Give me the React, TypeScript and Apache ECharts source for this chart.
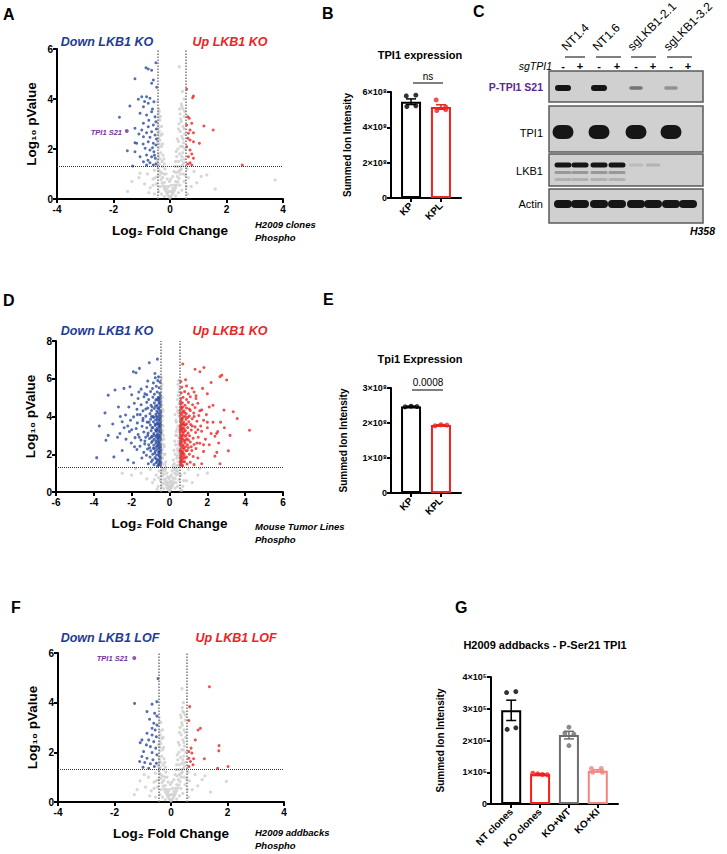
import React, { useEffect, useRef } from 'react';
import * as echarts from 'echarts';

const FF = '"Liberation Sans", Arial, Helvetica, "DejaVu Sans", sans-serif';

// ---------- DATA ----------
// thresholds
const fcLow = -0.45;
const fcHigh = 0.55;
const pCut = 1.3;

// Panel A (H2009 clones, phospho)
const aGray = [
  [0,0.04],[0.04,0.1],[-0.04,0.1],[0.08,0.18],[-0.08,0.16],[0.12,0.26],[-0.12,0.24],[0.16,0.35],[-0.16,0.33],[0.2,0.45],[-0.2,0.42],[0.24,0.56],[-0.24,0.52],[0.28,0.68],[-0.28,0.64],[0.06,0.3],[-0.06,0.28],[0.1,0.42],[-0.1,0.4],[0.15,0.55],[-0.15,0.5],[0.2,0.7],[-0.2,0.66],[0.32,0.82],[-0.32,0.78],[0.26,0.9],[-0.26,0.86],[0.36,1.0],[-0.36,0.95],[0.3,1.1],[-0.3,1.05],[0.4,1.2],[-0.4,1.15],[0.22,1.05],[-0.22,1.0],[0.44,1.35],[-0.43,1.3],
  [-0.44,1.55],[-0.36,1.6],[-0.28,1.5],[-0.42,1.8],[-0.33,1.85],[-0.4,2.05],[-0.3,2.1],[-0.44,2.3],[-0.36,2.35],[-0.42,2.6],[-0.32,2.55],[-0.4,2.85],[-0.44,3.05],[-0.36,3.15],[-0.42,3.4],[-0.4,3.6],[-0.44,3.9],
  [0.3,1.5],[0.4,1.55],[0.5,1.6],[0.34,1.8],[0.45,1.85],[0.52,2.0],[0.38,2.1],[0.48,2.25],[0.3,2.3],[0.42,2.5],[0.52,2.6],[0.36,2.7],[0.46,2.9],[0.4,3.1],[0.5,3.3],[0.36,3.4],[0.46,3.6],[0.4,3.8],[0.5,4.0],[0.44,4.3],[0.33,5.29],[0.28,2.0],[0.24,1.7],[-0.25,1.75],
  [-0.55,0.2],[-0.7,0.45],[-0.9,0.6],[-0.6,0.8],[-1.1,0.85],[-0.8,1.0],[-0.55,1.15],[-1.06,1.03],[-1.35,0.7],[-0.75,0.25],[0.62,0.2],[0.75,0.5],[0.95,0.65],[0.65,0.85],[1.1,0.9],[0.85,1.1],[1.3,0.96],[0.6,1.2],[3.72,0.76],[1.6,0.4],[-1.5,0.3],
  [-0.05,0.5],[0.05,0.55],[0,0.3],[-0.02,0.7],[0.03,0.8],[-0.1,0.8],[0.1,0.9],[-0.14,1.0],[0.14,1.1],[-0.18,1.2],[0.18,1.3],[-0.2,1.4],[0.2,1.5],[-0.22,1.6],[0.22,1.9],[-0.26,2.2],[0.26,2.4],[-0.28,2.6],[0.3,2.8],[-0.3,2.9],[0.32,3.0],[-0.34,3.3],[0.34,3.6],[-0.38,1.4],[0.38,1.3],[-0.4,1.7],[0.42,1.7],[-0.38,2.2],[0.44,2.1],[-0.4,2.45],[0.46,2.4],[-0.38,2.7],[0.5,2.8],[-0.42,2.95],[0.38,3.2],[-0.4,3.25],[0.52,3.5],[-0.38,3.5],[0.42,3.7],[-0.36,1.1],[0.36,1.15],[-0.44,0.9],[0.46,1.0],[-0.48,0.6],[0.5,0.7],[-0.35,0.5],[0.35,0.55],[-0.4,0.3],[0.42,0.35],[-0.3,0.2],[0.3,0.25],[-0.2,0.1],[0.2,0.12],[0.48,1.45],[-0.46,1.45],[0.27,1.3],[-0.27,1.3],[0.55,0.95],[-0.52,0.85],[0.58,0.5],[-0.6,0.55]
];
const aDown = [
  [-0.5,5.45],[-0.85,5.25],[-0.77,5.2],[-0.65,5.15],[-1.24,4.81],[-0.59,4.76],[-0.65,4.63],[-0.47,4.47],
  [-1.12,3.99],[-1.0,4.09],[-0.83,4.09],[-0.71,4.03],[-1.42,3.72],[-0.94,3.69],[-0.77,3.83],[-0.57,3.89],
  [-1.79,3.27],[-1.06,3.43],[-0.83,3.36],[-0.65,3.49],[-0.53,3.29],[-0.94,3.03],[-0.77,2.89],[-0.59,2.96],[-0.5,3.09],
  [-1.24,2.83],[-1.0,2.76],[-0.83,2.65],[-0.65,2.69],[-0.94,2.49],[-0.71,2.47],[-0.53,2.56],
  [-1.24,2.25],[-1.18,2.23],[-0.77,2.29],[-0.59,2.23],[-0.5,2.16],[-1.51,1.93],[-1.24,1.89],[-0.88,2.03],[-0.71,1.96],[-0.57,1.89],
  [-1.06,1.69],[-0.83,1.76],[-0.65,1.69],[-0.52,1.63],[-0.94,1.49],[-0.71,1.45],[-0.59,1.36],[-1.32,1.32],[-0.83,1.36],[-0.5,1.4],
  [-0.9,3.9],[-0.62,3.6],[-0.75,3.15],[-0.48,2.4],[-0.62,2.05],[-0.78,1.55],[-0.95,2.2],[-1.1,2.6],[-0.55,1.75],[-0.48,2.8]
];
const aUp = [
  [0.59,4.39],[0.8,4.05],[0.83,4.12],[0.63,3.29],[0.68,3.23],[0.59,2.96],[0.77,3.03],[1.2,2.92],[1.53,2.76],
  [0.71,2.76],[0.65,2.63],[0.83,2.65],[0.63,2.43],[0.71,2.36],[0.83,2.29],[1.04,2.23],[0.59,2.09],[0.71,1.96],
  [0.77,1.8],[0.65,1.69],[0.83,1.63],[0.71,1.45],[0.63,1.4],[0.77,1.36],[2.56,1.36]
];
const aHit = [[-1.53, 2.72]];

// Panel D (mouse tumor lines, phospho)
const dGray = [
  [0,0.05],[0.06,0.12],[-0.06,0.12],[0.12,0.25],[-0.12,0.22],[0.18,0.38],[-0.18,0.35],[0.24,0.5],[-0.24,0.48],[0.3,0.7],[-0.3,0.65],[0.1,0.45],[-0.1,0.4],[0.36,0.9],[-0.36,0.85],[0.2,0.75],[-0.2,0.7],[0.42,1.1],[-0.42,1.05],[0.28,1.0],[-0.28,0.95],[0.48,1.3],[-0.4,1.3],[0.34,1.25],[-0.34,1.2],[0.04,0.25],[-0.03,0.2],[0.15,0.6],[-0.15,0.55],[0.08,0.35],
  [0.45,1.6],[-0.42,1.6],[0.38,1.8],[-0.35,1.8],[0.5,2.0],[-0.4,2.05],[0.42,2.3],[-0.43,2.3],[0.32,2.5],[-0.3,2.5],[0.48,2.7],[-0.38,2.75],[0.4,3.0],[-0.44,3.0],[0.52,3.2],[-0.36,3.25],[0.45,3.5],[-0.42,3.5],[0.36,3.7],[-0.4,3.8],[0.5,4.0],[-0.44,4.1],[0.42,4.3],[-0.38,4.4],[0.5,4.7],[-0.42,4.8],[0.45,5.1],[-0.45,5.3],[0.52,5.5],[-0.4,5.7],[0.48,5.9],[-0.44,6.1],[0.25,1.5],[-0.25,1.45],[0.3,2.0],[-0.28,2.0],[0.35,3.2],[-0.32,3.0],[0.3,4.1],[-0.33,4.3],[0.22,1.2],[-0.22,1.15],
  [-0.6,0.3],[-0.9,0.5],[-1.2,0.7],[-0.7,0.9],[-1.5,1.0],[-0.55,1.1],[-1.0,1.2],[-2.0,0.9],[-2.5,1.0],[0.7,0.3],[0.9,0.6],[1.2,0.5],[0.8,1.0],[1.5,0.9],[1.0,1.2],[2.0,1.0],[1.6,1.25],[-1.8,1.25],[0.65,0.1],[-0.65,0.15],
  [-0.05,0.5],[0.05,0.55],[0,0.3],[-0.02,0.7],[0.03,0.8],[-0.1,0.8],[0.1,0.9],[-0.14,1.0],[0.14,1.1],[-0.18,1.3],[0.18,1.4],[-0.2,1.6],[0.2,1.7],[-0.24,2.0],[0.24,2.2],[-0.28,2.4],[0.28,2.7],[-0.3,2.8],[0.32,3.0],[-0.34,3.5],[0.34,3.8],[-0.36,4.0],[0.38,4.5],[-0.38,1.5],[0.38,1.4],[-0.4,1.85],[0.42,1.9],[-0.38,2.25],[0.44,2.15],[-0.4,2.55],[0.46,2.5],[-0.4,3.1],[0.5,2.9],[-0.42,3.3],[0.4,3.35],[-0.4,4.6],[0.46,4.2],[-0.38,5.0],[0.42,4.9],[-0.36,1.1],[0.36,1.1],[-0.44,0.85],[0.46,0.95],[-0.48,0.6],[0.5,0.65],[-0.35,0.45],[0.35,0.5],[-0.42,0.3],[0.42,0.3],[-0.3,0.18],[0.3,0.2],[0.52,1.45],[-0.46,1.45],[0.26,1.3],[-0.26,1.25],[0.6,0.9],[-0.58,0.75],[0.75,0.6],[-0.8,0.65],[0.44,5.7],[-0.42,5.5],[0.5,5.3],[-0.44,6.0]
];
const dDown = [
  [-0.48,1.42],[-0.55,1.5],[-0.63,1.38],[-0.71,1.55],[-0.82,1.45],[-0.96,1.6],[-1.12,1.5],
  [-0.47,1.78],[-0.53,1.9],[-0.6,1.72],[-0.68,1.95],[-0.77,1.82],[-0.89,2.0],[-1.03,1.85],[-1.22,1.95],[-1.46,1.8],
  [-0.46,2.2],[-0.52,2.3],[-0.58,2.12],[-0.66,2.25],[-0.75,2.15],[-0.86,2.32],[-0.99,2.18],[-1.16,2.28],[-1.36,2.1],[-1.72,2.25],
  [-0.49,2.5],[-0.56,2.6],[-0.63,2.45],[-0.72,2.58],[-0.83,2.48],[-0.95,2.62],[-1.1,2.5],[-1.31,2.55],[-1.56,2.42],[-2.02,2.6],
  [-0.47,2.82],[-0.54,2.9],[-0.61,2.78],[-0.7,2.92],[-0.81,2.8],[-0.93,2.95],[-1.06,2.83],[-1.26,2.9],[-1.51,2.75],[-1.82,2.88],[-2.3,2.8],
  [-0.46,3.12],[-0.53,3.2],[-0.62,3.08],[-0.71,3.22],[-0.83,3.1],[-0.97,3.25],[-1.13,3.12],[-1.36,3.18],[-1.66,3.05],[-2.12,3.2],[-2.62,3.1],
  [-0.48,3.4],[-0.56,3.5],[-0.65,3.38],[-0.75,3.52],[-0.88,3.42],[-1.01,3.55],[-1.2,3.4],[-1.45,3.48],[-1.76,3.36],[-2.21,3.5],
  [-0.47,3.7],[-0.55,3.8],[-0.63,3.68],[-0.73,3.82],[-0.85,3.72],[-1.0,3.85],[-1.18,3.7],[-1.41,3.78],[-1.7,3.66],[-2.06,3.8],[-2.5,3.72],
  [-0.46,4.02],[-0.54,4.1],[-0.62,3.98],[-0.72,4.12],[-0.86,4.0],[-1.03,4.15],[-1.25,4.02],[-1.55,4.1],[-1.9,3.98],[-2.32,4.08],
  [-0.48,4.3],[-0.57,4.4],[-0.67,4.28],[-0.8,4.42],[-0.95,4.32],[-1.15,4.45],[-1.4,4.3],[-1.72,4.38],
  [-0.47,4.62],[-0.56,4.7],[-0.66,4.58],[-0.8,4.72],[-0.98,4.6],[-1.2,4.75],[-1.5,4.62],[-1.86,4.7],
  [-0.5,4.92],[-0.6,5.0],[-0.72,4.88],[-0.88,5.02],[-1.1,4.9],[-1.35,5.05],[-1.66,4.95],
  [-0.52,5.22],[-0.65,5.3],[-0.8,5.18],[-1.0,5.32],[-1.3,5.2],[-1.62,5.3],[-2.0,5.15],
  [-0.55,5.52],[-0.7,5.6],[-0.9,5.48],[-1.2,5.58],[-1.5,5.45],[-0.5,5.82],[-0.62,5.9],[-0.85,5.78],[-1.15,5.88],[-0.58,6.1],[-0.75,6.05],
  [-0.64,7.04],[-1.07,6.85],[-1.59,6.55],[-1.91,6.37],[-1.77,6.32],[-0.77,6.28],[-2.41,5.49],[-3.24,5.13],[-2.88,5.4],[-2.09,5.58],[-3.41,4.19],[-3.71,3.5],[-3.85,1.82],[-2.94,1.86],[-3.24,3.0],[-3.36,2.74],[-2.7,4.5],[-2.5,2.2],[-3.0,3.6],[-2.2,1.7],[-2.75,2.9],[-1.9,1.55],
  [-0.5,1.6],[-0.58,2.0],[-0.51,2.7],[-0.59,3.3],[-0.5,3.6],[-0.6,4.2],[-0.52,4.5],[-0.64,1.62],[-0.69,2.4],[-0.57,3.0],[-0.66,3.6],[-0.52,1.65],[-0.49,2.05],[-0.55,2.35],[-0.61,2.65],[-0.68,3.0],[-0.74,3.3],[-0.78,2.05],[-0.9,2.7],[-0.92,3.4],[-0.95,4.0],[-0.5,3.95],[-0.58,4.85],[-0.7,4.0],
  [-0.47,1.55],[-0.5,1.85],[-0.53,2.15],[-0.47,2.4],[-0.5,2.95],[-0.47,3.25],[-0.53,3.45],[-0.46,3.55],[-0.49,3.85],[-0.46,4.2],[-0.5,4.75],[-0.47,5.1],[-0.55,5.0],[-0.57,1.45],[-0.6,2.5],[-0.62,2.85],[-0.6,3.6],[-0.64,3.85],[-0.62,4.45],[-0.66,4.9],[-0.7,1.75],[-0.72,2.7],[-0.68,3.25],[-0.76,3.6],[-0.74,4.55],[-0.8,2.3],[-0.82,3.0],[-0.84,3.95],[-0.9,1.7],[-0.95,2.9],[-0.92,4.5],[-1.05,2.35],[-1.08,3.7],[-1.15,3.0],[-1.25,4.4],[-1.3,2.7],[-1.4,3.9],[-1.6,2.9],[-1.7,4.1],[-2.0,3.3],[-1.85,2.4],[-2.4,3.4],[-2.6,4.0],[-2.15,4.5],[-1.2,5.15]
];
const dUp = [
  [0.57,1.45],[0.63,1.55],[0.7,1.4],[0.8,1.6],[0.93,1.48],[1.1,1.58],[1.3,1.45],
  [0.56,1.8],[0.62,1.92],[0.69,1.75],[0.78,1.98],[0.9,1.85],[1.05,2.0],[1.25,1.88],[1.5,1.8],
  [0.56,2.2],[0.61,2.32],[0.68,2.15],[0.76,2.28],[0.87,2.18],[1.0,2.35],[1.18,2.2],[1.4,2.3],[1.8,2.15],
  [0.57,2.52],[0.64,2.62],[0.72,2.48],[0.82,2.6],[0.95,2.5],[1.1,2.65],[1.3,2.52],[1.6,2.58],[2.1,2.5],
  [0.56,2.85],[0.63,2.92],[0.7,2.8],[0.8,2.95],[0.92,2.82],[1.06,2.98],[1.25,2.85],[1.52,2.9],[1.9,2.8],[2.4,2.95],
  [0.57,3.15],[0.65,3.22],[0.73,3.1],[0.84,3.25],[0.98,3.12],[1.15,3.28],[1.38,3.15],[1.7,3.22],[2.2,3.1],[2.55,3.2],
  [0.56,3.45],[0.63,3.52],[0.71,3.4],[0.82,3.55],[0.96,3.42],[1.12,3.58],[1.35,3.45],[1.65,3.5],[2.0,3.4],
  [0.58,3.75],[0.66,3.82],[0.75,3.7],[0.87,3.85],[1.02,3.72],[1.2,3.88],[1.45,3.75],[1.8,3.8],[2.3,3.7],
  [0.57,4.05],[0.65,4.12],[0.74,4.0],[0.88,4.15],[1.05,4.02],[1.28,4.18],[1.55,4.05],[1.95,4.1],
  [0.56,4.35],[0.64,4.42],[0.76,4.3],[0.9,4.45],[1.1,4.32],[1.35,4.48],[1.7,4.35],
  [0.58,4.65],[0.68,4.72],[0.82,4.6],[1.0,4.75],[1.22,4.62],[1.5,4.7],
  [0.6,4.95],[0.72,5.02],[0.9,4.9],[1.1,5.05],[1.4,4.95],[0.62,5.25],[0.8,5.32],[1.0,5.2],[1.3,5.3],[0.65,5.55],[0.9,5.62],[1.2,5.5],[0.6,5.85],[0.85,5.95],
  [0.7,6.78],[1.35,6.5],[1.82,6.6],[1.61,6.37],[2.67,6.11],[2.76,6.19],[3.02,5.93],[1.75,5.49],[2.88,4.34],[3.37,4.25],[3.58,3.89],[2.49,3.1],[3.11,2.18],[2.67,1.5],[1.7,1.5],[4.23,3.27],[2.6,2.6],[2.9,3.4],[2.3,4.6],[2.0,5.2],[2.4,1.9],[3.2,3.0],[2.2,5.8],
  [0.59,1.65],[0.6,2.05],[0.66,2.45],[0.59,2.7],[0.68,3.0],[0.6,3.35],[0.7,3.6],[0.6,3.9],[0.69,4.25],[0.62,1.68],[0.74,1.85],[0.72,2.08],[0.85,2.4],[0.77,2.7],[0.88,3.0],[0.78,3.35],[0.62,3.65],[0.84,4.0],
  [0.57,1.6],[0.6,1.85],[0.58,2.2],[0.56,2.6],[0.58,3.0],[0.56,3.3],[0.59,3.55],[0.57,4.2],[0.6,4.5],[0.58,4.8],[0.64,1.4],[0.66,2.0],[0.64,2.8],[0.66,3.35],[0.68,3.9],[0.7,4.5],[0.72,1.6],[0.74,2.35],[0.75,3.2],[0.78,3.55],[0.8,4.2],[0.82,1.8],[0.85,2.75],[0.9,3.6],[0.94,2.2],[0.96,3.95],[1.0,2.75],[1.05,4.4],[1.15,2.4],[1.2,3.5],[1.3,4.0],[1.45,2.6],[1.5,3.3],[1.6,4.3],[1.8,2.5],[2.0,3.7],[2.1,4.5],[2.5,2.1],[2.7,3.7],[1.4,5.1]
];

// Panel F (H2009 addbacks, phospho)
const fGray = [
  [0,0.04],[0.04,0.1],[-0.04,0.1],[0.08,0.18],[-0.08,0.16],[0.12,0.26],[-0.12,0.24],[0.16,0.35],[-0.16,0.33],[0.2,0.45],[-0.2,0.42],[0.24,0.56],[-0.24,0.52],[0.28,0.68],[-0.28,0.64],[0.06,0.3],[-0.06,0.28],[0.1,0.42],[-0.1,0.4],[0.15,0.55],[-0.15,0.5],[0.2,0.7],[-0.2,0.66],[0.32,0.82],[-0.32,0.78],[0.26,0.9],[-0.26,0.86],[0.36,1.0],[-0.36,0.95],[0.3,1.1],[-0.3,1.05],[0.4,1.2],[-0.4,1.15],[0.22,1.05],[-0.22,1.0],[0.44,1.35],[-0.43,1.3],
  [-0.44,1.55],[-0.36,1.6],[-0.28,1.5],[-0.42,1.8],[-0.33,1.85],[-0.4,2.05],[-0.3,2.1],[-0.44,2.3],[-0.36,2.35],[-0.42,2.6],[-0.32,2.55],[-0.4,2.85],[-0.44,3.05],[-0.36,3.2],[-0.42,3.4],
  [0.3,1.5],[0.4,1.55],[0.5,1.6],[0.34,1.8],[0.45,1.85],[0.52,2.0],[0.38,2.1],[0.48,2.25],[0.3,2.3],[0.42,2.5],[0.52,2.6],[0.36,2.7],[0.46,2.9],[0.4,3.1],[0.5,3.3],[0.36,3.4],[0.46,3.6],[0.4,3.8],[0.28,2.0],[0.24,1.7],[-0.25,1.75],[0.39,4.57],
  [-0.55,0.2],[-0.7,0.45],[-0.9,0.6],[-0.6,0.8],[-1.1,0.85],[-0.8,1.0],[-0.55,1.15],[-0.95,1.1],[-1.2,0.5],[-0.75,0.25],[0.62,0.2],[0.75,0.5],[0.95,0.65],[0.65,0.85],[1.1,0.9],[0.85,1.1],[1.2,1.05],[0.6,1.2],[1.96,0.83],[1.4,0.4],[-1.3,0.3],
  [-0.05,0.5],[0.05,0.55],[0,0.3],[-0.02,0.7],[0.03,0.8],[-0.1,0.8],[0.1,0.9],[-0.14,1.0],[0.14,1.1],[-0.18,1.2],[0.18,1.3],[-0.2,1.4],[0.2,1.5],[-0.22,1.6],[0.22,1.9],[-0.26,2.2],[0.26,2.4],[-0.28,2.6],[0.3,2.8],[-0.3,2.9],[0.32,3.0],[0.34,3.5],[-0.38,1.4],[0.38,1.3],[-0.4,1.7],[0.42,1.7],[-0.38,2.2],[0.44,2.1],[-0.4,2.45],[0.46,2.4],[-0.38,2.7],[0.5,2.8],[0.38,3.2],[-0.4,3.25],[0.5,3.5],[0.42,3.65],[0.44,4.0],[-0.36,1.1],[0.36,1.15],[-0.44,0.9],[0.46,1.0],[-0.48,0.6],[0.5,0.7],[-0.35,0.5],[0.35,0.55],[-0.4,0.3],[0.42,0.35],[-0.3,0.2],[0.3,0.25],[-0.2,0.1],[0.2,0.12],[0.48,1.45],[-0.46,1.45],[0.27,1.3],[-0.27,1.3],[0.55,0.95],[-0.52,0.85],[0.58,0.5],[-0.6,0.55]
];
const fDown = [
  [-0.46,4.97],[-1.29,3.97],[-0.67,3.94],[-0.5,4.04],[-0.85,3.64],[-0.58,3.57],[-0.5,3.46],[-0.76,3.33],[-0.61,3.17],[-0.5,3.1],
  [-0.67,2.97],[-0.56,2.9],[-0.85,2.77],[-0.67,2.7],[-0.52,2.63],[-1.03,2.5],[-0.79,2.5],[-0.61,2.43],[-1.09,2.39],[-0.87,2.3],[-0.73,2.23],[-0.54,2.17],
  [-0.97,2.03],[-0.67,1.99],[-0.5,1.9],[-1.03,1.83],[-0.85,1.76],[-0.64,1.7],[-1.11,1.63],[-0.93,1.59],[-0.73,1.54],[-0.52,1.56],[-0.99,1.4],[-0.79,1.36],[-0.59,1.43]
];
const fUp = [
  [1.36,4.64],[0.66,3.84],[0.63,3.28],[1.04,2.97],[0.96,2.9],[0.86,2.5],[1.7,2.27],[1.69,2.06],[0.71,2.17],[0.63,2.03],[0.74,1.97],
  [0.63,1.76],[0.8,1.74],[1.18,1.74],[0.69,1.63],[0.78,1.5],[0.63,1.43],[2.02,1.43],[1.65,1.36]
];
const fHit = [[-1.3, 5.8]];

// Panel B: TPI1 expression
const bCats = ['KP', 'KPL'];
const bMeans = [5.45e8, 5.15e8];
const bSem = [0.16e8, 0.13e8];
const bPoints = [[5.78e8, 5.82e8, 5.18e8, 5.22e8], [5.55e8, 5.0e8, 4.95e8, 5.15e8]];

// Panel E: Tpi1 expression
const eCats = ['KP', 'KPL'];
const eMeans = [2.47e8, 1.94e8];
const eSem = [0.012e8, 0.012e8];
const ePoints = [[2.46e8, 2.48e8, 2.47e8], [1.92e8, 1.95e8, 1.94e8]];

// Panel G: H2009 addbacks P-Ser21 TPI1
const gCats = ['NT clones', 'KO clones', 'KO+WT', 'KO+KI'];
const gMeans = [2.95e5, 0.94e5, 2.17e5, 1.05e5];
const gSem = [0.32e5, 0.01e5, 0.12e5, 0.03e5];
const gPoints = [[3.51e5, 3.54e5, 2.35e5, 2.4e5], [0.97e5, 0.95e5, 0.93e5, 0.92e5], [2.42e5, 2.23e5, 2.2e5, 1.84e5], [1.12e5, 1.12e5, 1.0e5, 1.0e5]];

// Panel C: western blot band intensities (lanes: -,+ per group)
const cGroups = ['NT1.4', 'NT1.6', 'sgLKB1-2.1', 'sgLKB1-3.2'];
const cLanes = ['-', '+', '-', '+', '-', '+', '-', '+'];
const cRows = ['P-TPI1 S21', 'TPI1', 'LKB1', 'Actin'];
const cBands = [
  [1, 0, 1, 0, 0.45, 0, 0.3, 0],
  [1, 0, 1, 0, 1, 0, 1, 0],
  [1, 1, 1, 1, 0.1, 0.14, 0, 0],
  [1, 1, 1, 1, 1, 1, 1, 1],
];

// ---------- LAYOUT / STYLE ----------
const BLUE = '#2a4b9f';
const RED = '#ec2424';
const GRAY = '#cdcdcd';
const PURPLE = '#76309a';
const AX = { color: '#000', width: 2 };
const sup: Record<number, string> = { 5: '⁵', 8: '⁸' };

const JIT4 = [-0.16, 0.16, -0.14, 0.16];
const JIT4b = [-0.25, -0.08, 0.08, 0.25];
const JIT3 = [-0.2, 0.0, 0.2];

function volcano(gi: number, grid: any, xr: [number, number], ymax: number, gray: number[][], down: number[][], up: number[][], hit?: number[][]) {
  const xAxis = {
    gridIndex: gi, type: 'value', min: xr[0], max: xr[1], interval: 2,
    axisLine: { show: true, onZero: false, lineStyle: AX },
    axisTick: { show: true, length: 4, lineStyle: AX },
    axisLabel: { color: '#000', fontSize: 10, fontWeight: 'bold', fontFamily: FF, margin: 5 },
    splitLine: { show: false },
    name: 'Log₂ Fold Change', nameLocation: 'middle', nameGap: 24, nameMoveOverlap: false,
    nameTextStyle: { color: '#000', fontSize: 13.5, fontWeight: 'bold', fontFamily: FF },
  };
  const yAxis = {
    gridIndex: gi, type: 'value', min: 0, max: ymax, interval: 2,
    axisLine: { show: true, onZero: false, lineStyle: AX },
    axisTick: { show: true, length: 4, lineStyle: AX },
    axisLabel: { color: '#000', fontSize: 10, fontWeight: 'bold', fontFamily: FF, margin: 4 },
    splitLine: { show: false },
    name: 'Log₁₀ pValue', nameLocation: 'middle', nameGap: 19, nameMoveOverlap: false,
    nameTextStyle: { color: '#000', fontSize: 13.5, fontWeight: 'bold', fontFamily: FF },
  };
  const series: any[] = [
    {
      type: 'scatter', xAxisIndex: gi, yAxisIndex: gi, data: gray, symbolSize: 3.2, silent: true, z: 1,
      itemStyle: { color: GRAY },
      markLine: {
        silent: true, symbol: ['none', 'none'], label: { show: false }, animation: false,
        data: [
          { xAxis: fcLow, lineStyle: { color: '#777', width: 1.5, type: 'dotted' } },
          { xAxis: fcHigh, lineStyle: { color: '#777', width: 1.5, type: 'dotted' } },
          { yAxis: pCut, lineStyle: { color: '#333', width: 1, type: 'dotted' } },
        ],
      },
    },
    { type: 'scatter', xAxisIndex: gi, yAxisIndex: gi, data: down, symbolSize: 3, silent: true, z: 3, itemStyle: { color: BLUE } },
    { type: 'scatter', xAxisIndex: gi, yAxisIndex: gi, data: up, symbolSize: 3, silent: true, z: 3, itemStyle: { color: RED } },
  ];
  if (hit) series.push({ type: 'scatter', xAxisIndex: gi, yAxisIndex: gi, data: hit, symbolSize: 4, silent: true, z: 4, itemStyle: { color: PURPLE } });
  return { grid, xAxis, yAxis, series };
}

function barPanel(gi: number, grid: any, cats: string[], means: number[], sems: number[], pts: number[][], colors: string[], ymax: number, yint: number, exp: number, xr: [number, number], nameGap: number, jit: number[][]) {
  const idx = cats.map((_, i) => i);
  const xAxis = {
    gridIndex: gi, type: 'value', min: xr[0], max: xr[1],
    axisLine: { show: true, onZero: false, lineStyle: AX },
    axisTick: { show: true, length: 4, lineStyle: AX, customValues: idx },
    axisLabel: { customValues: idx, formatter: (v: number) => cats[Math.round(v)] ?? '', rotate: 45, color: '#000', fontSize: 10, fontWeight: 'bold', fontFamily: FF, margin: 6 },
    splitLine: { show: false },
  };
  const yAxis = {
    gridIndex: gi, type: 'value', min: 0, max: ymax, interval: yint,
    axisLine: { show: true, onZero: false, lineStyle: AX },
    axisTick: { show: true, length: 4, lineStyle: AX },
    axisLabel: { formatter: (v: number) => (v === 0 ? '0' : `${Math.round(v / 10 ** exp)}×10${sup[exp]}`), color: '#000', fontSize: 9, fontWeight: 'bold', fontFamily: FF, margin: 4 },
    splitLine: { show: false },
    name: 'Summed Ion Intensity', nameLocation: 'middle', nameGap, nameMoveOverlap: false,
    nameTextStyle: { color: '#000', fontSize: 10, fontWeight: 'bold', fontFamily: FF },
  };
  const series: any[] = [
    {
      type: 'bar', xAxisIndex: gi, yAxisIndex: gi, barWidth: 20, z: 2, silent: true,
      data: means.map((m, i) => ({ value: [i, m], itemStyle: { color: '#fff', borderColor: colors[i], borderWidth: 2 } })),
    },
    {
      type: 'custom', xAxisIndex: gi, yAxisIndex: gi, z: 3, silent: true,
      data: means.map((m, i) => [i, m - sems[i], m + sems[i]]),
      encode: { x: 0, y: [1, 2] },
      renderItem: (params: any, api: any) => {
        const i = api.value(0);
        const lo = api.coord([i, api.value(1)]);
        const hi = api.coord([i, api.value(2)]);
        const c = colors[Math.round(i)];
        const st = { stroke: c, lineWidth: 1.5 };
        return {
          type: 'group',
          children: [
            { type: 'line', shape: { x1: lo[0], y1: lo[1], x2: hi[0], y2: hi[1] }, style: st },
            { type: 'line', shape: { x1: hi[0] - 5, y1: hi[1], x2: hi[0] + 5, y2: hi[1] }, style: st },
            { type: 'line', shape: { x1: lo[0] - 5, y1: lo[1], x2: lo[0] + 5, y2: lo[1] }, style: st },
          ],
        };
      },
    },
  ];
  pts.forEach((arr, i) => {
    series.push({
      type: 'scatter', xAxisIndex: gi, yAxisIndex: gi, z: 4, silent: true, symbolSize: 5,
      itemStyle: { color: colors[i] },
      data: arr.map((v, k) => [i + jit[i][k], v]),
    });
  });
  return { grid, xAxis, yAxis, series };
}

function txt(x: number, y: number, text: string, font: string, fill = '#000', align = 'left', vAlign = 'middle', rotation = 0) {
  return { type: 'text', x, y, rotation, silent: true, style: { text, font, fill, textAlign: align, textVerticalAlign: vAlign } };
}

function blot(): any[] {
  const els: any[] = [];
  const laneX = [563, 580, 599, 617, 636, 653, 671, 688];
  const panels = [[71, 102], [106, 152], [154, 186], [189, 223]];
  const labelY = [87, 133, 171, 204];
  const bandY = [88, 132, 165, 204];
  const bandW = [16, 21, 17, 18];
  const bandH = [6, 14, 5, 8];
  const ulines = [[565, 585], [596, 621], [631, 656], [667, 692]];
  cGroups.forEach((g, i) => {
    els.push({ type: 'line', silent: true, shape: { x1: ulines[i][0], y1: 57, x2: ulines[i][1], y2: 57 }, style: { stroke: '#000', lineWidth: 1 } });
    els.push(txt(ulines[i][0] + 3, 53, g, `12px ${FF}`, '#000', 'left', 'bottom', Math.PI / 4));
  });
  els.push(txt(552, 66, 'sgTPI1', `italic 10.5px ${FF}`, '#000', 'right', 'middle'));
  cLanes.forEach((s, i) => els.push(txt(laneX[i], 66, s, `bold 11px ${FF}`, '#000', 'center', 'middle')));
  cRows.forEach((r, ri) => {
    const [t, b] = panels[ri];
    els.push({ type: 'rect', silent: true, shape: { x: 549, y: t, width: 154, height: b - t }, style: { fill: '#d0d0d0', stroke: '#5a5a5a', lineWidth: 1.5 } });
    els.push(txt(543, labelY[ri], r, ri === 0 ? `bold 10.5px ${FF}` : `11px ${FF}`, ri === 0 ? '#5b2a91' : '#000', 'right', 'middle'));
    cBands[ri].forEach((v, li) => {
      if (v <= 0) return;
      const w = bandW[ri] * (v < 0.5 ? 0.85 : 1);
      const h = bandH[ri] * (v < 0.5 ? 0.6 : 1);
      els.push({ type: 'rect', silent: true, shape: { x: laneX[li] - w / 2, y: bandY[ri] - h / 2, width: w, height: h, r: h / 2 }, style: { fill: '#161616', opacity: Math.min(1, v * 1.1) } });
      if (ri === 2 && v >= 0.5) {
        els.push({ type: 'rect', silent: true, shape: { x: laneX[li] - w / 2, y: 171, width: w, height: 3, r: 1.5 }, style: { fill: '#555', opacity: 0.45 } });
        els.push({ type: 'rect', silent: true, shape: { x: laneX[li] - w / 2, y: 178, width: w, height: 3, r: 1.5 }, style: { fill: '#666', opacity: 0.3 } });
      }
    });
  });
  els.push(txt(715, 231, 'H358', `italic bold 10.5px ${FF}`, '#000', 'right', 'middle'));
  return els;
}

function buildOption() {
  const panels = [
    volcano(0, { left: 57, top: 49, width: 226, height: 150 }, [-4, 4], 6, aGray, aDown, aUp, aHit),
    barPanel(1, { left: 391, top: 92, width: 70, height: 106 }, bCats, bMeans, bSem, bPoints, ['#000', RED], 6e8, 2e8, 8, [-0.67, 1.67], 39, [JIT4, JIT4]),
    volcano(2, { left: 56, top: 341, width: 227, height: 151 }, [-6, 6], 8, dGray, dDown, dUp),
    barPanel(3, { left: 391, top: 388, width: 70, height: 105 }, eCats, eMeans, eSem, ePoints, ['#000', RED], 3e8, 1e8, 8, [-0.67, 1.67], 43, [JIT3, JIT3]),
    volcano(4, { left: 58, top: 653, width: 226, height: 149 }, [-4, 4], 6, fGray, fDown, fUp, fHit),
    barPanel(5, { left: 491, top: 677, width: 127, height: 127 }, gCats, gMeans, gSem, gPoints, ['#000', '#ff1a1a', '#6e6e6e', '#f4847f'], 4e5, 1e5, 5, [-0.7, 3.7], 46, [JIT4, JIT4b, [0, -0.14, 0.17, 0], [-0.22, 0.12, -0.18, 0.16]]),
  ];
  const grids = panels.map((p) => ({ ...p.grid, containLabel: false, outerBoundsMode: 'none' }));
  const B = `bold 16px ${FF}`;
  const T = `bold italic 12.5px ${FF}`;
  const N = `bold italic 9.5px ${FF}`;
  const graphic: any[] = [
    txt(3, 14, 'A', B), txt(322, 13, 'B', B), txt(473, 11, 'C', B), txt(3, 300, 'D', B), txt(323, 299, 'E', B), txt(11, 607, 'F', B), txt(455, 607, 'G', B),
    txt(107, 42, 'Down LKB1 KO', T, '#1f3c93', 'center'), txt(230, 42, 'Up LKB1 KO', T, RED, 'center'),
    txt(122, 132, 'TPI1 S21', `bold italic 7.5px ${FF}`, PURPLE, 'right'),
    txt(255, 224, 'H2009 clones', N), txt(255, 237, 'Phospho', N),
    txt(107, 331, 'Down LKB1 KO', T, '#1f3c93', 'center'), txt(230, 331, 'Up LKB1 KO', T, RED, 'center'),
    txt(255, 526, 'Mouse Tumor Lines', N), txt(255, 539, 'Phospho', N),
    txt(110, 638, 'Down LKB1 LOF', T, '#1f3c93', 'center'), txt(236, 638, 'Up LKB1 LOF', T, RED, 'center'),
    txt(128, 658, 'TPI1 S21', `bold italic 7.5px ${FF}`, PURPLE, 'right'),
    txt(255, 832, 'H2009 addbacks', N), txt(255, 845, 'Phospho', N),
    txt(420, 55, 'TPI1 expression', `bold 11px ${FF}`, '#000', 'center'),
    txt(428, 76, 'ns', `10px ${FF}`, '#000', 'center'),
    { type: 'line', silent: true, shape: { x1: 413, y1: 83, x2: 443, y2: 83 }, style: { stroke: '#000', lineWidth: 1 } },
    txt(420, 359, 'Tpi1 Expression', `bold 11px ${FF}`, '#000', 'center'),
    txt(428, 382, '0.0008', `10px ${FF}`, '#000', 'center'),
    { type: 'line', silent: true, shape: { x1: 412, y1: 390, x2: 443, y2: 390 }, style: { stroke: '#000', lineWidth: 1 } },
    txt(545, 645, 'H2009 addbacks - P-Ser21 TPI1', `bold 11px ${FF}`, '#000', 'center'),
    ...blot(),
  ];
  return {
    animation: false,
    backgroundColor: '#fff',
    textStyle: { fontFamily: FF },
    grid: grids,
    xAxis: panels.map((p) => p.xAxis),
    yAxis: panels.map((p) => p.yAxis),
    series: panels.flatMap((p) => p.series),
    graphic: { elements: graphic },
  };
}

export default function App() {
  const ref = useRef<HTMLDivElement>(null);
  useEffect(() => {
    document.body.style.margin = '0';
    const chart = echarts.init(ref.current!, null, { renderer: 'svg' });
    chart.setOption(buildOption() as any);
    return () => chart.dispose();
  }, []);
  return <div ref={ref} style={{ width: 727, height: 854, background: '#fff' }} />;
}
